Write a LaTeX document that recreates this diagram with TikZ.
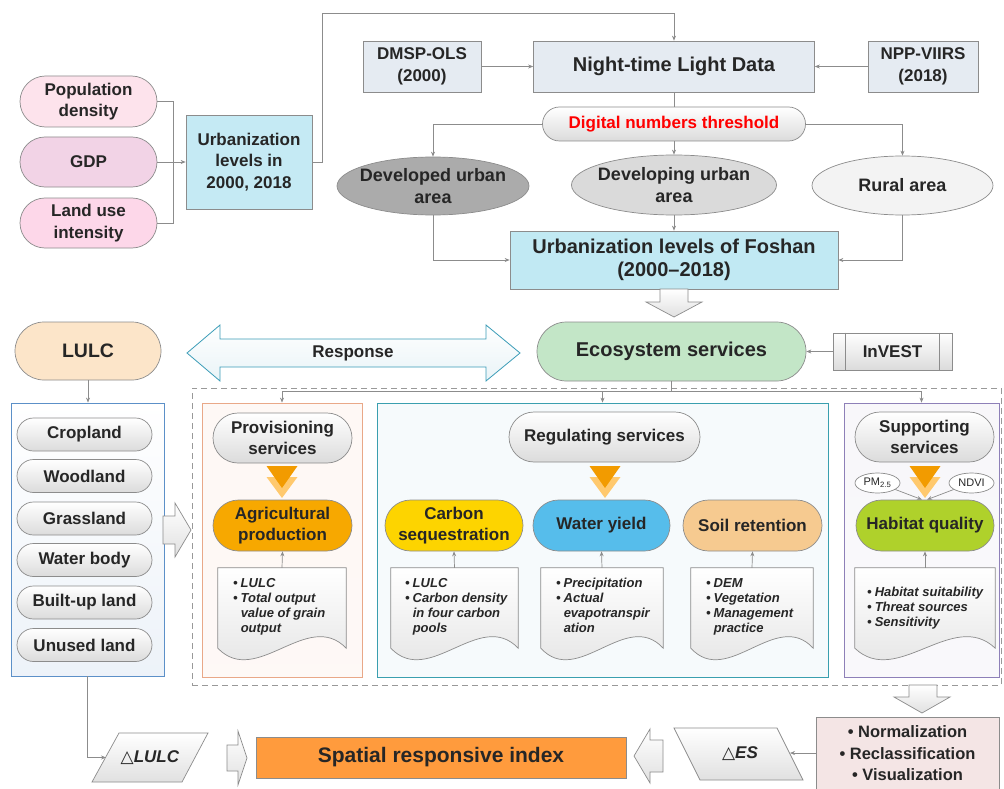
\documentclass[tikz,border=0pt]{standalone}
\usepackage{fontspec}
\setmainfont{Liberation Sans}
\newfontfamily\symf{DejaVu Sans}
\usetikzlibrary{shapes.misc,shapes.geometric,arrows.meta,calc}
\definecolor{txt}{HTML}{262626}
\definecolor{lineg}{HTML}{8C8C8C}
\definecolor{bord}{HTML}{8C8C8C}
\definecolor{popc}{HTML}{FDE3EC}
\definecolor{gdpc}{HTML}{F2D3E6}
\definecolor{landc}{HTML}{FDD7E9}
\definecolor{urbc}{HTML}{C5EAF4}
\definecolor{nightc}{HTML}{E5EBF2}
\definecolor{fosc}{HTML}{C1E9F3}
\definecolor{devc}{HTML}{ABABAB}
\definecolor{dingc}{HTML}{DADADA}
\definecolor{rurc}{HTML}{F3F3F3}
\definecolor{lulcc}{HTML}{FCE5C9}
\definecolor{respf}{HTML}{EAF3F8}
\definecolor{respb}{HTML}{3C9DB8}
\definecolor{ecoc}{HTML}{C3E6C7}
\definecolor{agric}{HTML}{F7A800}
\definecolor{carbc}{HTML}{FDD400}
\definecolor{watc}{HTML}{56BDEB}
\definecolor{soilc}{HTML}{F6CA90}
\definecolor{habc}{HTML}{AFD12B}
\definecolor{spatc}{HTML}{FF9B3D}
\definecolor{normc}{HTML}{F4E5E5}
\definecolor{trid}{HTML}{F29B00}
\definecolor{tril}{HTML}{FFC96E}
\definecolor{provb}{HTML}{E9A888}
\definecolor{provf}{HTML}{FDF0EA}
\definecolor{regb}{HTML}{3A9FAF}
\definecolor{regf}{HTML}{EEF5F9}
\definecolor{supb}{HTML}{8E80B8}
\definecolor{supf}{HTML}{F1EFF5}
\definecolor{listb}{HTML}{5C90C8}
\definecolor{listf}{HTML}{EEF2F8}
\newcommand\twotri[1]{%
  \fill[tril] (#1-15.5,477) -- (#1+15.5,477) -- (#1,498) -- cycle;
  \fill[trid] (#1-15.5,466) -- (#1+15.5,466) -- (#1,488) -- cycle;}
\newcommand\docshape[1]{%
  \path[docst] (#1.north west) -- (#1.north east) -- (#1.south east)
    .. controls ($(#1.south east)!0.3!(#1.south west)+(0,-40)$) and ($(#1.south west)!0.3!(#1.south east)+(0,40)$) .. (#1.south west) -- cycle;}
\begin{document}
\begin{tikzpicture}[x=1pt,y=-1pt,
  every node/.style={inner sep=0pt, align=center, text=txt},
  ln/.style={draw=lineg, line width=0.7pt},
  arr/.style={ln, -{Stealth[length=5pt,width=4pt]}},
  pill/.style={rounded rectangle, draw=bord, line width=0.7pt},
  box/.style={rectangle, draw=bord, line width=0.7pt},
  grayfill/.style={top color=white, bottom color=black!14},
  fat/.style={draw=bord, line width=0.7pt, top color=white, bottom color=black!12},
  docst/.style={draw=bord, line width=0.7pt, top color=white, bottom color=black!12},
  ellst/.style={ellipse, draw=bord, line width=0.7pt},
  tA/.style={font=\bfseries\fontsize{17}{21.5}\selectfont},
  tE/.style={font=\bfseries\fontsize{18}{21.7}\selectfont},
  tB/.style={font=\bfseries\fontsize{20}{23.5}\selectfont},
  tC/.style={font=\bfseries\itshape\fontsize{13}{15}\selectfont, align=left},
  tS/.style={font=\fontsize{11}{13}\selectfont},
]
\useasboundingbox (0,0) rectangle (1004,789);
\fill[white] (0,0) rectangle (1004,789);

% ---------- top-left ----------
\node[pill, fill=popc, minimum width=137pt, minimum height=51pt, tA] (pop) at (88.5,101.5) {Population\\density};
\node[pill, fill=gdpc, minimum width=137pt, minimum height=50pt, tA] (gdp) at (88.5,162) {GDP};
\node[pill, fill=landc, minimum width=137pt, minimum height=50pt, tA] (land) at (88.5,223) {Land use\\intensity};
\node[box, fill=urbc, minimum width=126pt, minimum height=94pt, tA] (urb) at (249,162) {Urbanization\\levels in\\2000, 2018};
\draw[ln] (pop.east) -- ++(16,0) |- (land.east);
\draw[arr] (gdp.east) -- (urb.west);

% ---------- night-time light ----------
\node[box, fill=nightc, minimum width=118pt, minimum height=51pt, tA] (dmsp) at (422,66.5) {DMSP-OLS\\(2000)};
\node[box, fill=nightc, minimum width=281pt, minimum height=51pt, tB] (night) at (674,66.5) {Night-time Light Data};
\node[box, fill=nightc, minimum width=110pt, minimum height=51pt, tA] (npp) at (923,66.5) {NPP-VIIRS\\(2018)};
\coordinate (ctop) at (322,13);
\draw[arr] (urb.east) -| (ctop) -| (night.north);
\draw[arr] (dmsp.east) -- (night.west);
\draw[arr] (npp.west) -- (night.east);

\node[pill, grayfill, minimum width=263pt, minimum height=34pt, tA, text=red] (dn) at (674,124) {Digital numbers threshold};
\draw[ln] (night.south) -- (dn.north);

\node[ellst, fill=devc, minimum width=192pt, minimum height=58pt] (dev) at (433,186) {};
\node[tE] (devt) at (dev.center) {Developed urban\\area};
\node[ellst, fill=dingc, minimum width=205pt, minimum height=60pt] (ding) at (674,185) {};
\node[tE] (dingt) at (ding.center) {Developing urban\\area};
\node[ellst, fill=rurc, minimum width=181pt, minimum height=59pt] (rural) at (902.5,185.5) {};
\node[tE] (ruralt) at (rural.center) {Rural area};
\draw[arr] (dn.west) -| (dev.north);
\draw[arr] (dn.south) -- (ding.north);
\draw[arr] (dn.east) -| (rural.north);

\node[box, fill=fosc, minimum width=328pt, minimum height=58pt, font=\bfseries\fontsize{20}{23.3}\selectfont] (fos) at (674,260) {Urbanization levels of Foshan\\(2000–2018)};
\draw[arr] (dev.south) |- (fos.west);
\draw[arr] (ding.south) -- (fos.north);
\draw[arr] (rural.south) |- (fos.east);

\path[fat] (660,289) -- (688,289) -- (688,302) -- (702,302) -- (674,317) -- (646,302) -- (660,302) -- cycle;

% ---------- middle row ----------
\node[pill, fill=lulcc, minimum width=146pt, minimum height=58pt, font=\bfseries\fontsize{19.5}{23}\selectfont] (lulc) at (88,351) {LULC};
\path[draw=respb, line width=0.8pt, top color=white, bottom color=respf!80!respb!40]
  (187,353) -- (220,325) -- (220,339) -- (486,339) -- (486,325) -- (520,353)
  -- (486,381) -- (486,367) -- (220,367) -- (220,381) -- cycle;
\node[tA] (resp) at (353,353) {Response};
\node[pill, fill=ecoc, minimum width=269pt, minimum height=59pt, tB] (eco) at (671.5,351.5) {Ecosystem services};
\node[box, grayfill, minimum width=119pt, minimum height=37pt, tA] (invest) at (892.5,351.5) {InVEST};
\draw[ln] ($(invest.north west)+(13,0)$) -- ($(invest.south west)+(13,0)$);
\draw[ln] ($(invest.north east)+(-13,0)$) -- ($(invest.south east)+(-13,0)$);
\draw[arr] (invest.west) -- (eco.east);

% ---------- LULC list ----------
\node[rectangle, draw=listb, line width=0.8pt, top color=white, bottom color=listf!70!listb!30, minimum width=153pt, minimum height=273pt] (listbox) at (87.5,539.5) {};
\draw[arr] (lulc.south) -- (lulc.south |- listbox.north);
\node[pill, grayfill, minimum width=135pt, minimum height=33pt, tA] (crop) at (84.5,434.5) {Cropland};
\node[pill, grayfill, minimum width=135pt, minimum height=33pt, tA] (wood) at (84.5,476) {Woodland};
\node[pill, grayfill, minimum width=135pt, minimum height=33pt, tA] (grass) at (84.5,518.5) {Grassland};
\node[pill, grayfill, minimum width=135pt, minimum height=33pt, tA] (water) at (84.5,560) {Water body};
\node[pill, grayfill, minimum width=135pt, minimum height=33pt, tA] (built) at (84.5,602.5) {Built-up land};
\node[pill, grayfill, minimum width=135pt, minimum height=33pt, tA] (unused) at (84.5,645) {Unused land};
\path[fat] (163,516) -- (175,516) -- (175,503) -- (191,530) -- (175,557) -- (175,544) -- (163,544) -- cycle;

% ---------- ES frame and panels ----------
\node[draw=black!40, line width=0.8pt, dash pattern=on 6pt off 4pt, minimum width=809pt, minimum height=297pt] (esframe) at (596.5,536.5) {};
\node[rectangle, draw=provb, line width=0.8pt, top color=white!50!provf, bottom color=provf!85!provb!25, minimum width=160pt, minimum height=274pt] (provp) at (282,540) {};
\node[rectangle, draw=regb, line width=0.8pt, top color=white!50!regf, bottom color=regf!85!regb!20, minimum width=451pt, minimum height=274pt] (regp) at (602.5,540) {};
\node[rectangle, draw=supb, line width=0.8pt, top color=white!50!supf, bottom color=supf!85!supb!20, minimum width=155pt, minimum height=274pt] (supp) at (921.5,540) {};
\coordinate (join) at (671.5,391);
\draw[ln] (eco.south) -- (join);
\draw[arr] (join) -| (provp.north);
\draw[arr] (join) -| (regp.north);
\draw[arr] (join) -| (supp.north);

% provisioning
\node[pill, grayfill, minimum width=139pt, minimum height=50pt, tA] (provs) at (282.5,438) {Provisioning\\services};
\twotri{282}
\node[pill, fill=agric, minimum width=139pt, minimum height=51pt, tA] (agri) at (282.5,525.5) {Agricultural\\production};
\node[minimum width=128pt, minimum height=80pt] (docP) at (282,608) {};
\docshape{docP}
\node[tC, anchor=north west] (docPt) at (233,577) {\begin{tabular}{@{}l@{\hspace{3pt}}l@{}}• & LULC\\ • & Total output\\ & value of grain\\ & output\end{tabular}};
\draw[arr] (docP.north) -- (agri.south);

% regulating
\node[pill, grayfill, minimum width=191pt, minimum height=50pt, tA] (regs) at (604.5,437) {Regulating services};
\twotri{605}
\node[pill, fill=carbc, minimum width=138pt, minimum height=51pt, tA] (carb) at (454,525.5) {Carbon\\sequestration};
\node[pill, fill=watc, minimum width=137pt, minimum height=51pt, tA] (wat) at (601.5,525.5) {Water yield};
\node[pill, fill=soilc, minimum width=139pt, minimum height=51pt, tA] (soil) at (752.5,525.5) {Soil retention};
\node[minimum width=127pt, minimum height=80pt] (docC) at (454.5,608) {};
\docshape{docC}
\node[tC, anchor=north west] (docCt) at (405,577) {\begin{tabular}{@{}l@{\hspace{3pt}}l@{}}• & LULC\\ • & Carbon density\\ & in four carbon\\ & pools\end{tabular}};
\node[minimum width=122pt, minimum height=80pt] (docW) at (602,608) {};
\docshape{docW}
\node[tC, anchor=north west] (docWt) at (556,577) {\begin{tabular}{@{}l@{\hspace{3pt}}l@{}}• & Precipitation\\ • & Actual\\ & evapotranspir\\ & ation\end{tabular}};
\node[minimum width=122pt, minimum height=80pt] (docS) at (752,608) {};
\docshape{docS}
\node[tC, anchor=north west] (docSt) at (706,577) {\begin{tabular}{@{}l@{\hspace{3pt}}l@{}}• & DEM\\ • & Vegetation\\ • & Management\\ & practice\end{tabular}};
\draw[arr] (docC.north) -- (carb.south);
\draw[arr] (docW.north) -- (wat.south);
\draw[arr] (docS.north) -- (soil.south);

% supporting
\node[pill, grayfill, minimum width=139pt, minimum height=50pt, tA] (sups) at (924.5,437) {Supporting\\services};
\twotri{925}
\node[ellst, fill=white, minimum width=45pt, minimum height=20pt] (pm) at (877.5,483) {};
\node[tS] (pmt) at (pm.center) {PM\textsubscript{2.5}};
\node[ellst, fill=white, minimum width=45pt, minimum height=20pt] (ndvi) at (971.5,483) {};
\node[tS] (ndvit) at (ndvi.center) {NDVI};
\node[pill, fill=habc, minimum width=138pt, minimum height=51pt, tA] (hab) at (925,525.5) {Habitat quality};
\draw[arr] (pm.-20) -- ($(hab.north)+(-3,0)$);
\draw[arr] (ndvi.200) -- ($(hab.north)+(2,0)$);
\node[minimum width=140pt, minimum height=80pt] (docH) at (925,608) {};
\docshape{docH}
\node[tC, anchor=north west] (docHt) at (867,586) {\begin{tabular}{@{}l@{\hspace{3pt}}l@{}}• & Habitat suitability\\ • & Threat sources\\ • & Sensitivity\end{tabular}};
\draw[arr] (docH.north) -- (hab.south);

% ---------- bottom ----------
\path[fat] (909,685) -- (937,685) -- (937,697) -- (950,697) -- (922,713) -- (894,697) -- (909,697) -- cycle;
\node[rectangle, draw=bord, line width=0.8pt, fill=normc, minimum width=183pt, minimum height=72pt] (norm) at (907.5,753) {};
\node[font=\bfseries\fontsize{16.5}{21.5}\selectfont] (normt) at (907.5,753.5) {• Normalization\\• Reclassification\\• Visualization};

\path[docst] (92,782) -- (182,782) -- (208,733) -- (119,733) -- cycle;
\node[font=\bfseries\fontsize{17}{20}\selectfont] (dlulc) at (150,757.5) {{\symf\mdseries △}\textit{LULC}};
\coordinate (dlulcL) at (106,757.5);
\draw[arr] (listbox.south) |- (dlulcL);

\path[fat] (227,745) -- (238,745) -- (238,731) -- (247,758) -- (238,785) -- (238,771) -- (227,771) -- cycle;
\node[box, fill=spatc, minimum width=370pt, minimum height=41pt, font=\bfseries\fontsize{21}{25}\selectfont] (sri) at (441,757.5) {Spatial responsive index};
\path[fat] (663,740) -- (650,740) -- (650,729) -- (634,756) -- (650,783) -- (650,772) -- (663,772) -- cycle;

\path[docst] (674,728) -- (777,728) -- (803,780) -- (700,780) -- cycle;
\node[font=\bfseries\fontsize{17}{20}\selectfont] (des) at (740,754) {{\symf\mdseries △}\textit{ES}};
\coordinate (desR) at (790,753);
\draw[arr] (norm.west) -- (desR);
\end{tikzpicture}
\end{document}
